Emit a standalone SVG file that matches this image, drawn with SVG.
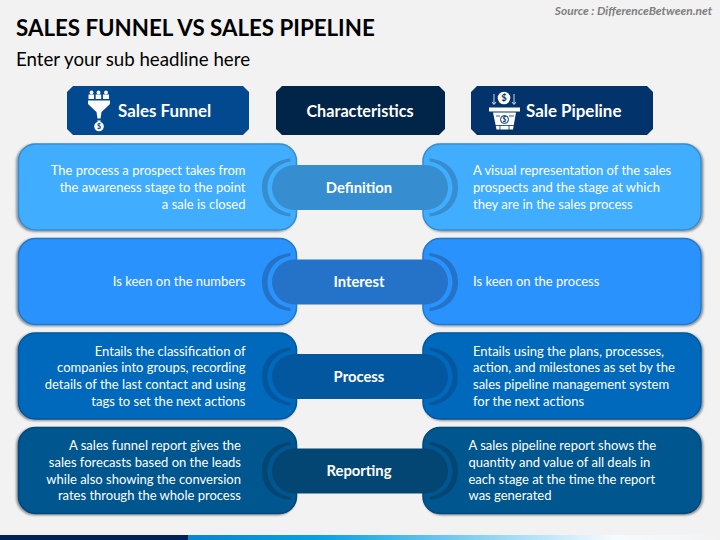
<svg xmlns="http://www.w3.org/2000/svg" width="720" height="540" viewBox="0 0 720 540">
<style>
text{font-family:"Lato","Liberation Sans",sans-serif}
.t{font-size:13px;fill:#fff}
.r{text-anchor:end}
.h{font-size:16.9px;font-weight:700;fill:#fff}
.c{font-size:14.800px;font-weight:700;fill:#fff;text-anchor:middle}
.card{stroke-width:1.5}
</style>
<defs>
<filter id="sl" x="-5%" y="-5%" width="110%" height="110%"><feDropShadow dx="-1.5" dy="1" stdDeviation="1.2" flood-color="#000" flood-opacity=".45"/></filter>
<filter id="sr" x="-5%" y="-5%" width="110%" height="110%"><feDropShadow dx="1.5" dy="1" stdDeviation="1.2" flood-color="#000" flood-opacity=".45"/></filter>
<linearGradient id="bar" x1="0" x2="1" y1="0" y2="0"><stop offset="0" stop-color="#0a84cf"/><stop offset=".25" stop-color="#0aa0e2"/><stop offset=".8" stop-color="#f6fbfe"/><stop offset="1" stop-color="#f2f2f2"/></linearGradient>
<path id="cl" d="M290.500 158.500C268 161 262 176 262 187.500C262 199 268 214 290.500 216.500L290.500 213.500C276 211 267.500 200 267.500 187.500C267.500 175 276 164 290.500 161.500Z"/>
</defs>
<rect width="720" height="540" fill="#f2f2f2"/>
<text x="16" y="36" fill="#000" style="font-size:22.300px;font-weight:700">SALES FUNNEL VS SALES PIPELINE</text>
<text x="16" y="66" style="font-size:18.700px" fill="#000">Enter your sub headline here</text>
<text x="712" y="15" class="r" style="font-size:11.900px;font-weight:700;font-style:italic" fill="#7f7f7f">Source : DifferenceBetween.net</text>

<g id="header-funnel"><path fill="#03498f" d="M73 86H243L249 92V129L243 135H73L67 129V92Z"/>
<g fill="#fff"><circle cx="91.500" cy="92.500" r="1.900"/><circle cx="98.500" cy="92.500" r="1.900"/><circle cx="106" cy="92.500" r="1.900"/><rect x="88.500" y="94.500" width="5.500" height="4.500"/><rect x="95.700" y="94.500" width="5.500" height="4.500"/><rect x="103" y="94.500" width="6" height="4.500"/><path d="M88 100.500H110V104L101.500 112L100.500 118.500H97.500L96.500 112L88 104Z"/><circle cx="99" cy="126.500" r="4.800"/><path d="M97 120.500H101L100 122H98Z"/></g><text x="99" y="129" text-anchor="middle" style="font-size:7px;font-weight:700" fill="#03498f">$</text>
<text x="118" y="117" class="h">Sales Funnel</text></g>

<g id="header-characteristics"><path fill="#012449" d="M282 86H439L445 92V129L439 135H282L276 129V92Z"/>
<text x="360" y="117" class="h" text-anchor="middle" style="font-size:16.200px">Characteristics</text></g>

<g id="header-pipeline"><path fill="#02346b" d="M477 86H647L653 92V129L647 135H477L471 129V92Z"/>
<g fill="#fff"><circle cx="504" cy="98" r="6.300"/><rect x="489" y="107.500" width="31" height="4"/><path d="M493 112.500H516L513 129.500H496.500Z"/><path d="M494 94V104M492 102L494 104.500L496 102M514 94V104M512 102L514 104.500L516 102" fill="none" stroke="#fff" stroke-width=".8"/></g>
<text x="504" y="101.200" text-anchor="middle" style="font-size:9.500px;font-weight:700" fill="#02346b">$</text>
<circle cx="504.500" cy="119.500" r="4" fill="#fff" stroke="#02346b" stroke-width="1"/><text x="504.500" y="122" text-anchor="middle" style="font-size:6.500px;font-weight:700" fill="#02346b">$</text><path d="M495 125.500H514M500 125.500V130M509 125.500V130M496 116H500M509 116H514" stroke="#02346b" stroke-width=".8" fill="none"/>
<text x="526" y="117" class="h">Sale Pipeline</text></g>

<g id="row-definition">
<rect class="card" x="18.500" y="144" width="278" height="86" rx="17" fill="#3fadfe" stroke="#3a8ccc" filter="url(#sl)"/>
<rect class="card" x="423" y="144" width="278" height="86" rx="17" fill="#3fadfe" stroke="#3a8ccc" filter="url(#sr)"/>
<use href="#cl" fill="#368dcf"/><use href="#cl" fill="#368dcf" transform="matrix(-1 0 0 1 720 0)"/>
<rect x="272" y="165" width="176" height="45" rx="22.500" fill="#368dcf"/>
<text x="359" y="192.500" class="c">Definition</text>
<text class="t r" x="245.500" y="175">The process a prospect takes from</text>
<text class="t r" x="245.500" y="192">the awareness stage to the point</text>
<text class="t r" x="245.500" y="209">a sale is closed</text>
<text class="t" x="473" y="175">A visual representation of the sales</text>
<text class="t" x="473" y="192">prospects and the stage at which</text>
<text class="t" x="473" y="209">they are in the sales process</text>
</g>
<g id="row-interest" transform="translate(0 94.500)">
<rect class="card" x="18.500" y="144" width="278" height="86" rx="17" fill="#2c92fd" stroke="#2478c8" filter="url(#sl)"/>
<rect class="card" x="423" y="144" width="278" height="86" rx="17" fill="#2c92fd" stroke="#2478c8" filter="url(#sr)"/>
<use href="#cl" fill="#2473c8"/><use href="#cl" fill="#2473c8" transform="matrix(-1 0 0 1 720 0)"/>
<rect x="272" y="165" width="176" height="45" rx="22.500" fill="#2473c8"/>
<text x="359" y="192.500" class="c">Interest</text>
<text class="t r" x="245.500" y="191.500">Is keen on the numbers</text>
<text class="t" x="473" y="191.500">Is keen on the process</text>
</g>
<g id="row-process" transform="translate(0 189)">
<rect class="card" x="18.500" y="144" width="278" height="86" rx="17" fill="#0569bb" stroke="#03579f" filter="url(#sl)"/>
<rect class="card" x="423" y="144" width="278" height="86" rx="17" fill="#0569bb" stroke="#03579f" filter="url(#sr)"/>
<use href="#cl" fill="#03579f"/><use href="#cl" fill="#03579f" transform="matrix(-1 0 0 1 720 0)"/>
<rect x="272" y="165" width="176" height="45" rx="22.500" fill="#03579f"/>
<text x="359" y="192.500" class="c">Process</text>
<text class="t r" x="245.500" y="166.500">Entails the classification of</text>
<text class="t r" x="245.500" y="183.200">companies into groups, recording</text>
<text class="t r" x="245.500" y="200">details of the last contact and using</text>
<text class="t r" x="245.500" y="216.500">tags to set the next actions</text>
<text class="t" x="473" y="166.500">Entails using the plans, processes,</text>
<text class="t" x="473" y="183.200">action, and milestones as set by the</text>
<text class="t" x="473" y="200">sales pipeline management system</text>
<text class="t" x="473" y="216.500">for the next actions</text>
</g>
<g id="row-reporting" transform="translate(0 283.500)">
<rect class="card" x="18.500" y="144" width="278" height="86" rx="17" fill="#04568f" stroke="#034a7a" filter="url(#sl)"/>
<rect class="card" x="423" y="144" width="278" height="86" rx="17" fill="#04568f" stroke="#034a7a" filter="url(#sr)"/>
<use href="#cl" fill="#034674"/><use href="#cl" fill="#034674" transform="matrix(-1 0 0 1 720 0)"/>
<rect x="272" y="165" width="176" height="45" rx="22.500" fill="#034674"/>
<text x="359" y="192.500" class="c">Reporting</text>
<text class="t r" x="241" y="166.500">A sales funnel report gives the</text>
<text class="t r" x="241" y="183.200">sales forecasts based on the leads</text>
<text class="t r" x="241" y="200">while also showing the conversion</text>
<text class="t r" x="241" y="216.500">rates through the whole process</text>
<text class="t" x="468.500" y="166.500">A sales pipeline report shows the</text>
<text class="t" x="468.500" y="183.200">quantity and value of all deals in</text>
<text class="t" x="468.500" y="200">each stage at the time the report</text>
<text class="t" x="468.500" y="216.500">was generated</text>
</g>
<rect y="535" width="188" height="5" fill="#02215a"/>
<rect x="188" y="535" width="532" height="5" fill="url(#bar)"/>
</svg>
